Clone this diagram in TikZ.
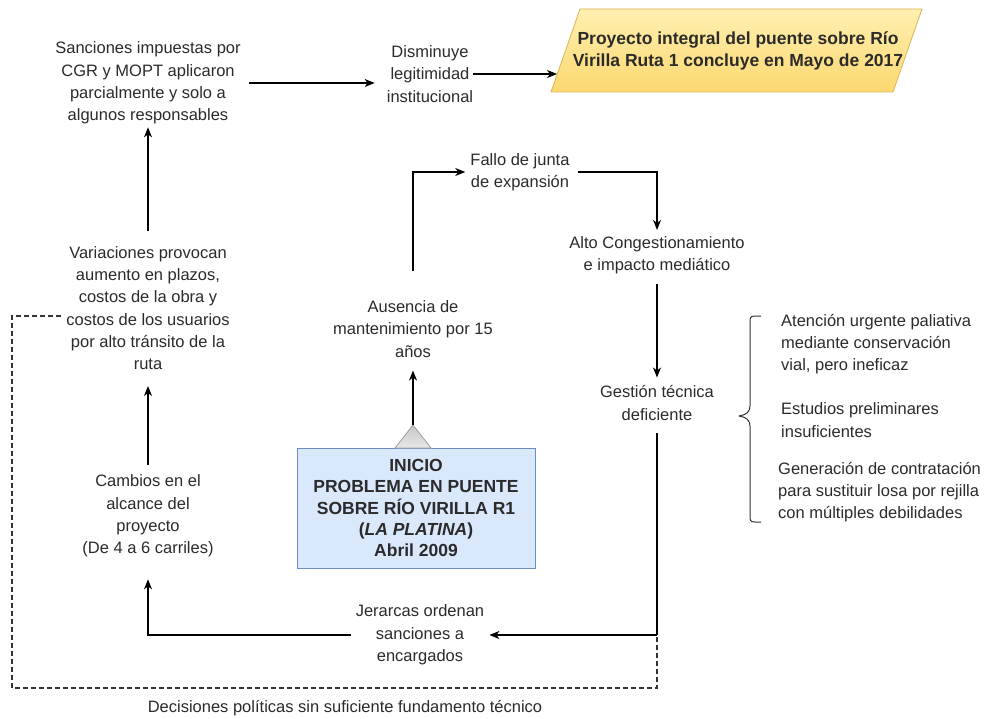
\documentclass[tikz,border=0pt]{standalone}
\usepackage{fontspec}
\setmainfont{Liberation Sans}
\usetikzlibrary{arrows.meta,calc}
\definecolor{txt}{HTML}{2B2B2B}
\definecolor{projfill}{HTML}{FCD870}
\definecolor{projtop}{HTML}{FFEFB0}
\definecolor{projline}{HTML}{D6B656}
\definecolor{startfill}{HTML}{DAE8FC}
\definecolor{startline}{HTML}{6C8EBF}
\definecolor{dashcol}{HTML}{333333}
\begin{document}
\begin{tikzpicture}[x=1pt,y=-1pt,
  lbl/.style={align=center,inner sep=0pt,text=txt,font=\fontsize{16.5}{22.3}\selectfont},
  lbll/.style={align=left,inner sep=0pt,text=txt,anchor=west,font=\fontsize{16.5}{22.3}\selectfont},
  boldlbl/.style={lbl,font=\bfseries\fontsize{17.5}{21.6}\selectfont},
  arr/.style={line width=1.1pt,draw=black,-{Stealth[length=10pt,width=8pt,inset=3pt]}},
  plain/.style={line width=1.1pt,draw=black},
  dashline/.style={line width=1.1pt,draw=dashcol,dash pattern=on 5pt off 3pt}]
\useasboundingbox (0,0) rectangle (1003,719);
\fill[white] (0,0) rectangle (1003,719);

% ---- final outcome (parallelogram)
\shade[top color=projtop,bottom color=projfill,draw=projline,line width=0.8pt]
  (580,9) -- (922,9) -- (893,92) -- (551,92) -- cycle;
\node[boldlbl] (proj) at (738,51)
  {Proyecto integral del puente sobre Río\\Virilla Ruta 1 concluye en Mayo de 2017};
\coordinate (projin) at (557,74);

% ---- starting box with triangle
\shade[top color=startfill,bottom color=startfill,draw=startline,line width=0.8pt]
  (297,448) rectangle (535,568);
\node[boldlbl,font=\bfseries\fontsize{17.5}{21.3}\selectfont] (inicio) at (416,508)
  {INICIO\\PROBLEMA EN PUENTE\\SOBRE RÍO VIRILLA R1\\(\textit{LA PLATINA})\\Abril 2009};
\shade[top color=gray!45,bottom color=gray!18,draw=gray!75,line width=0.8pt]
  (413,425) -- (431,448) -- (395,448) -- cycle;
\coordinate (apex) at (413,425);

% ---- chain of causes
\node[lbl] (sanc) at (148,83) {Sanciones impuestas por\\CGR y MOPT aplicaron\\parcialmente y solo a\\algunos responsables};
\node[lbl] (dism) at (430,74) {Disminuye\\legitimidad\\institucional};
\node[lbl] (aus) at (413,329) {Ausencia de\\mantenimiento por 15\\años};
\node[lbl] (fallo) at (520,172) {Fallo de junta\\de expansión};
\node[lbl] (alto) at (657,255) {Alto Congestionamiento\\e impacto mediático};
\node[lbl] (gest) at (657,403) {Gestión técnica\\deficiente};
\node[lbl] (jer) at (420,635) {Jerarcas ordenan\\sanciones a\\encargados};
\node[lbl] (camb) at (148,516) {Cambios en el\\alcance del\\proyecto\\(De 4 a 6 carriles)};
\node[lbl] (var) at (148,308) {Variaciones provocan\\aumento en plazos,\\costos de la obra y\\costos de los usuarios\\por alto tránsito de la\\ruta};

% ---- details of deficient management
\node[lbll] (aten) at (781,344) {Atención urgente paliativa\\mediante conservación\\vial, pero ineficaz};
\node[lbll] (estu) at (781,420) {Estudios preliminares\\insuficientes};
\node[lbll] (gene) at (778,492) {Generación de contratación\\para sustituir losa por rejilla\\con múltiples debilidades};
\draw[line width=1pt,draw=black!80,line join=round]
  (761,316) -- (755,316) .. controls (750,316) and (750,318) .. (750,322)
  -- (750,406) .. controls (750,412) and (746,415) .. (739,416)
  .. controls (746,417) and (750,420) .. (750,426)
  -- (750,516) .. controls (750,520) and (750,522) .. (755,522) -- (761,522);

% ---- connectors
\draw[arr] (apex) -- ([yshift=-13pt]aus.south);
\draw[arr] ([yshift=29pt]aus.north) |- ([xshift=-5pt]fallo.west);
\draw[arr] ([xshift=8pt]fallo.east) -| ([yshift=6pt]alto.north);
\draw[arr] ([yshift=-10pt]alto.south) -- ([yshift=8pt]gest.north);
\draw[plain] ([yshift=-12pt]gest.south) -- (gest.south |- jer.east) coordinate (turn);
\draw[arr] (turn) -- ([xshift=5pt]jer.east);
\draw[arr] ([xshift=-5pt]jer.west) -| ([yshift=-22pt]camb.south);
\draw[arr] ([yshift=10pt]camb.north) -- ([yshift=-16pt]var.south);
\draw[arr] ([yshift=15pt]var.north) -- ([yshift=-3pt]sanc.south);
\draw[arr] ([xshift=8pt]sanc.east) -- ([xshift=-12pt]dism.west |- sanc.east);
\draw[arr] (dism.east) -- (projin);

% ---- political decisions feedback (dashed)
\draw[dashline] ([xshift=-5pt,yshift=-8pt]var.west) -- (12,316) -- (12,688) -| (turn);
\node[lbl] (dec) at (345,708) {Decisiones políticas sin suficiente fundamento técnico};
\end{tikzpicture}
\end{document}
